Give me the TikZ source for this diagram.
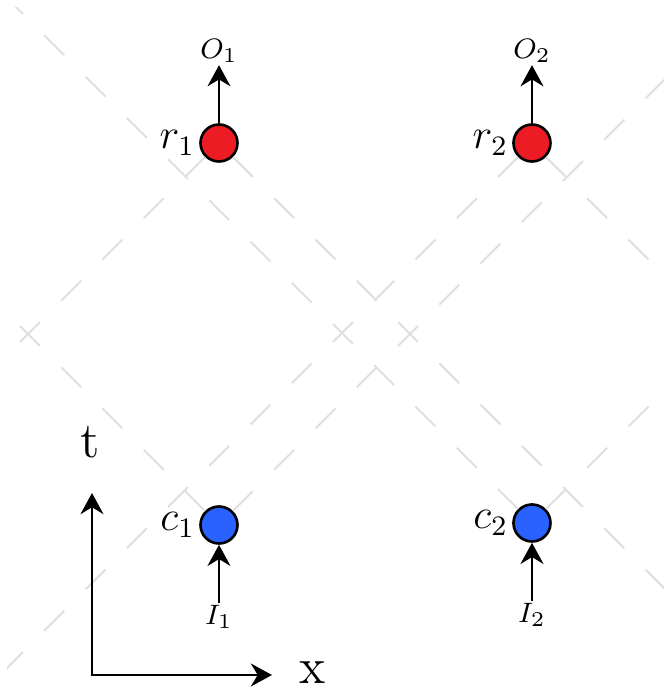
\documentclass[tikz,border=0pt]{standalone}
\usetikzlibrary{positioning, arrows.meta}

\definecolor{eventred}{RGB}{237,28,36}
\definecolor{eventblue}{RGB}{41,98,255}

\begin{document}
\begin{tikzpicture}[
  event/.style={circle, draw, line width=0.75pt, minimum size=0.37cm, inner sep=0pt},
  cone/.style={gray!25, line width=0.6pt, dash pattern=on 8pt off 8.6pt},
  lbl/.style={font=\footnotesize, inner sep=0.5pt},
  side/.style={font=\large, inner sep=1pt},
  axislbl/.style={font=\Large},
  arrow/.style={-{Stealth[length=6pt, width=6.5pt]}, line width=0.85pt}
]
  \useasboundingbox (-0.92,-0.14) rectangle (5.79,6.75);

  % events
  \node[event, fill=eventblue] (c1) at (1.27,1.50) {};
  \node[event, fill=eventblue] (c2) at (4.40,1.52) {};
  \node[event, fill=eventred] (r1) at (1.27,5.32) {};
  \node[event, fill=eventred] (r2) at (4.40,5.32) {};

  % light cones
  \begin{scope}
    \clip (-0.85,-0.07) rectangle (5.72,6.68);
    \foreach \ev/\dx/\dy in {c1/-1/1, c1/1/1, c2/-1/1, c2/1/1, r1/-1/-1, r1/1/-1, r2/-1/-1, r2/1/-1}
      \draw[cone] (\ev) -- ++(6*\dx,6*\dy);
  \end{scope}

  % names
  \node[side, left=0pt of c1] (c1lbl) {$c_1$};
  \node[side, left=0pt of c2] (c2lbl) {$c_2$};
  \node[side, left=0pt of r1] (r1lbl) {$r_1$};
  \node[side, left=0pt of r2] (r2lbl) {$r_2$};

  % inputs and outputs
  \node[lbl, below=0.58cm of c1] (i1) {$I_1$};
  \node[lbl, below=0.58cm of c2] (i2) {$I_2$};
  \node[lbl, above=0.58cm of r1] (o1) {$O_1$};
  \node[lbl, above=0.58cm of r2] (o2) {$O_2$};
  \draw[arrow] (i1) -- (c1);
  \draw[arrow] (i2) -- (c2);
  \draw[arrow] (r1) -- (o1);
  \draw[arrow] (r2) -- (o2);

  % axes
  \coordinate (tend) at (0,1.82);
  \coordinate (xend) at (1.80,0);
  \draw[{Stealth[length=6pt, width=6.5pt]}-{Stealth[length=6pt, width=6.5pt]}, line width=0.85pt] (tend) |- (xend);
  \node[axislbl] (tlbl) at (-0.015,2.33) {t};
  \node[axislbl] (xlbl) at (2.21,0.025) {x};
\end{tikzpicture}
\end{document}
